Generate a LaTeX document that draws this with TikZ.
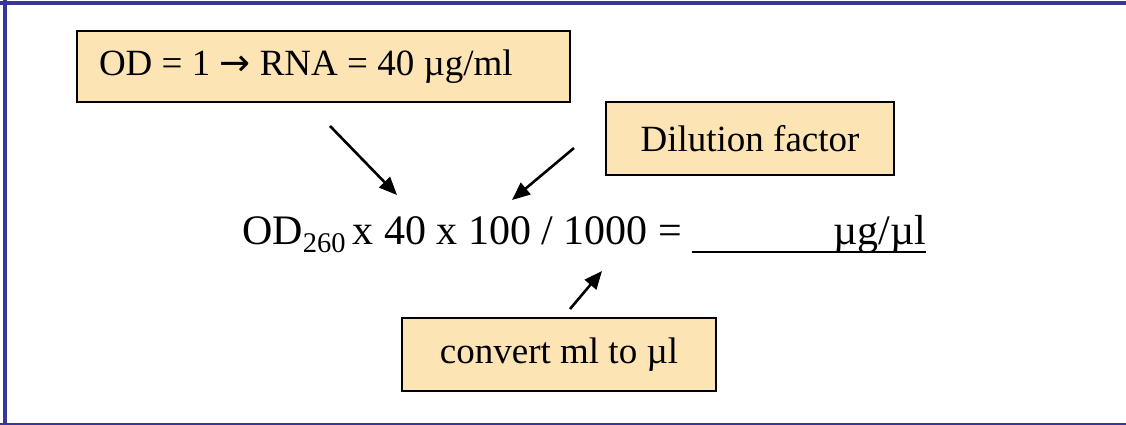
\documentclass[tikz,border=0pt]{standalone}
\usepackage{fontspec}
\setmainfont{Liberation Serif}
\newfontfamily\fleches{DejaVu Sans}
\usetikzlibrary{arrows.meta}
\definecolor{cadre}{HTML}{36369C}
\definecolor{creme}{HTML}{FDE4B5}
\tikzset{
  boite/.style={draw=black, fill=creme, line width=2pt, minimum height=71pt,
    inner sep=0pt, font=\fontsize{37}{44}\selectfont},
  fleche/.style={line width=2.6pt, -{Triangle[length=18pt,width=15pt]}}
}
\begin{document}
\begin{tikzpicture}[x=1pt, y=-1pt]
                \useasboundingbox (0,0) rectangle (1126,425);
                % Cadre de la diapositive
                \draw[cadre, line width=4pt] (0,3) -- (1126,3);
                \draw[cadre, line width=4pt] (5,0) -- (5,425);
                \draw[cadre, line width=2pt] (0,423.5) -- (1126,423.5);

                % Boîtes d'explication
                \node[boite, minimum width=493pt] (conc) at (323.5,66.5) {\makebox[449pt][l]{OD = 1 {\fleches →} RNA = 40 µg/ml}};
                \node[boite, minimum width=288pt, minimum height=73pt] (dilution) at (750,138.5) {Dilution factor};
                \node[boite, minimum width=314pt, minimum height=73pt] (conversion) at (559,354.5) {convert ml to µl};

                % Formule
                \node[anchor=base west, inner sep=0pt, font=\fontsize{42}{50}\selectfont] (formule) at (242,244)
                  {OD\raisebox{-8pt}{\fontsize{28.5}{30}\selectfont 260}\,x 40 x 100 / 1000 = \makebox[234pt][r]{µg/µl}\llap{\rule[-9pt]{234pt}{2pt}}};

                % Points de départ et d'arrivée des flèches
                \coordinate (c1) at (330,126);
                \coordinate (f1) at (397,195);
                \coordinate (c2) at (574,148);
                \coordinate (f2) at (512,200);
                \coordinate (c3) at (570,309);
                \coordinate (f3) at (602,271);

                \draw[fleche] (c1) -- (f1);
                \draw[fleche] (c2) -- (f2);
                \draw[fleche] (c3) -- (f3);
            \end{tikzpicture}
\end{document}
